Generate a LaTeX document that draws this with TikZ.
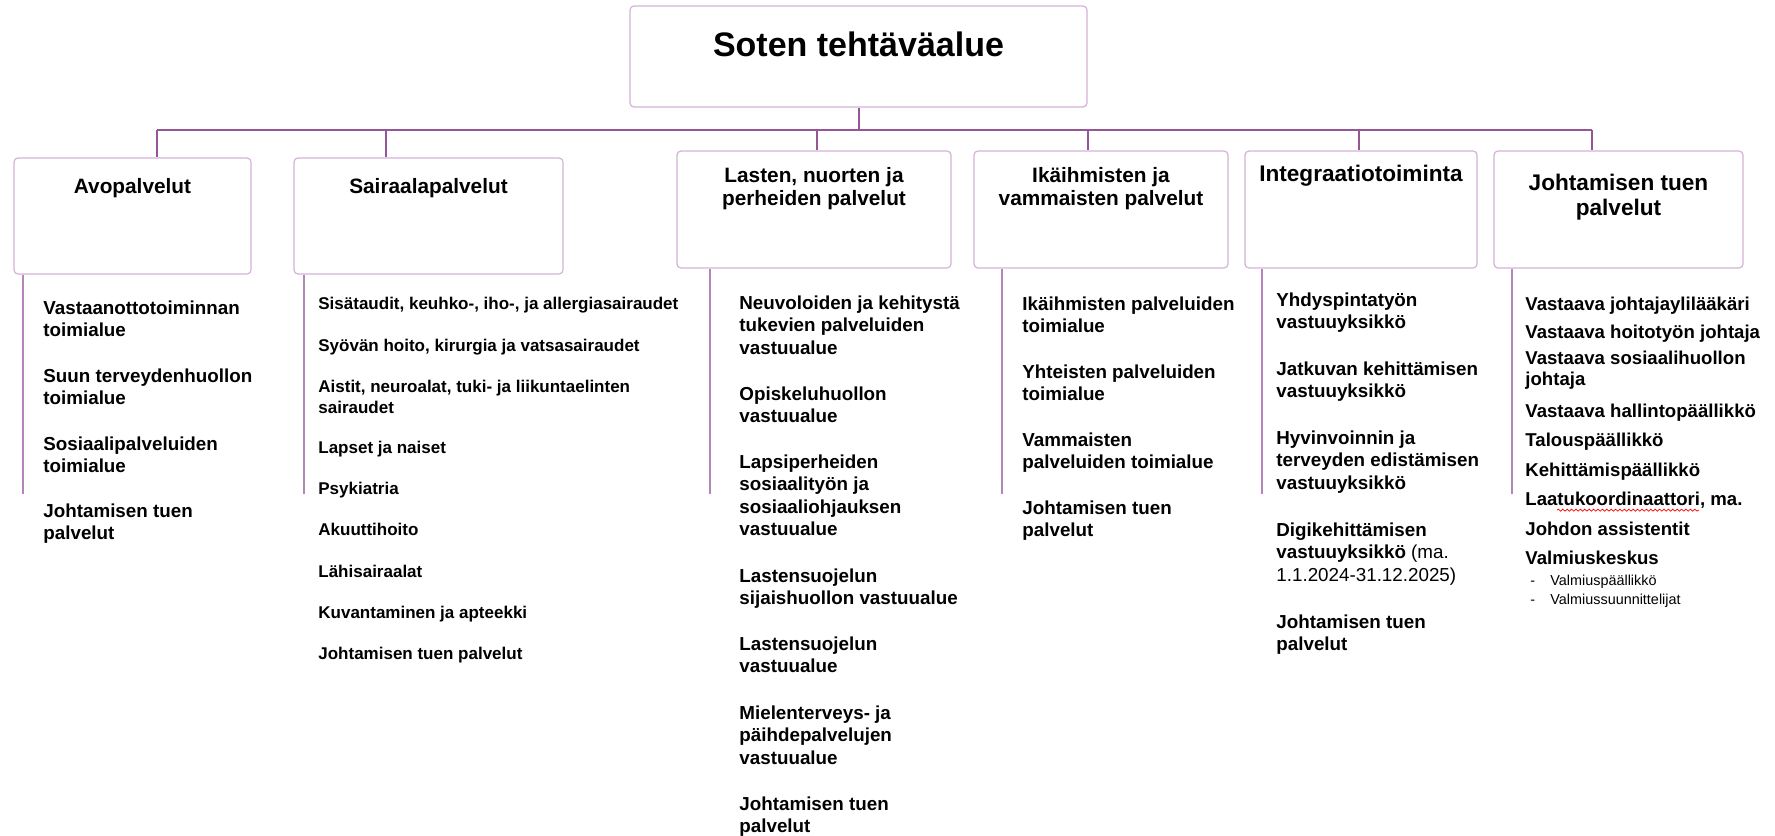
\documentclass[tikz,border=0pt]{standalone}
\usepackage{fontspec}
\setmainfont{Liberation Sans}
\usetikzlibrary{calc}
\usetikzlibrary{decorations.pathmorphing}

\definecolor{linkpurple}{RGB}{150,85,150}
\definecolor{boxpurple}{RGB}{210,178,214}
\definecolor{barpurple}{RGB}{180,135,186}

\begin{document}
\begin{tikzpicture}[x=0.5pt, y=-0.5pt,
  unit/.style={draw=boxpurple, line width=.6pt, rounded corners=2pt, inner sep=0pt},
  unittitle/.style={anchor=north, align=center, inner sep=0pt, font=\bfseries\fontsize{10.4}{11.5}\selectfont},
  link/.style={draw=linkpurple, line width=1pt},
  bar/.style={draw=barpurple, line width=1pt},
  spell/.style={draw=red, line width=.35pt, decorate, decoration={snake, amplitude=.5pt, segment length=2.2pt}},
  item/.style={anchor=north west, align=left, inner sep=0pt, font=\bfseries\fontsize{9.4}{11.3}\selectfont},
  smallitem/.style={item, font=\bfseries\fontsize{8.5}{10.4}\selectfont},
  staffitem/.style={item, font=\bfseries\fontsize{9.3}{10.5}\selectfont},
  subitem/.style={item, font=\fontsize{7.2}{9}\selectfont}]
\useasboundingbox (0,0) rectangle (1775,835);

\node[unit, minimum width=228.5pt, minimum height=50.5pt] (soten) at (858.5,56.5) {};
\node[unittitle, font=\bfseries\fontsize{17}{20}\selectfont] (sotentitle) at ([yshift=-13pt]soten.north) {Soten tehtäväalue};

\node[unit, minimum width=118.5pt, minimum height=58pt] (avo) at (132.5,216) {};
\node[unit, minimum width=134.5pt, minimum height=58pt] (sair) at (428.5,216) {};
\node[unit, minimum width=137pt, minimum height=58.5pt] (lasten) at (814,209.5) {};
\node[unit, minimum width=127pt, minimum height=58.5pt] (ika) at (1101,209.5) {};
\node[unit, minimum width=116pt, minimum height=58.5pt] (integ) at (1361,209.5) {};
\node[unit, minimum width=124.5pt, minimum height=58.5pt] (johto) at (1618.5,209.5) {};

\node[unittitle] (avotitle) at ([yshift=-10.5pt]avo.north) {Avopalvelut};
\node[unittitle] (sairtitle) at ([yshift=-10.5pt]sair.north) {Sairaalapalvelut};
\node[unittitle] (lastentitle) at ([yshift=-8.5pt]lasten.north) {Lasten, nuorten ja\\perheiden palvelut};
\node[unittitle] (ikatitle) at ([yshift=-8.5pt]ika.north) {Ikäihmisten ja\\vammaisten palvelut};
\node[unittitle, font=\bfseries\fontsize{11.3}{12.5}\selectfont] (integtitle) at ([yshift=-7pt]integ.north) {Integraatiotoiminta};
\node[unittitle, font=\bfseries\fontsize{11.3}{12.5}\selectfont] (johtotitle) at ([yshift=-11.5pt]johto.north) {Johtamisen tuen\\palvelut};

\coordinate (hub) at (soten.south |- 0,130);
\draw[link] (soten.south) -- (hub);
\foreach \x/\u in {157/avo, 386/sair, 817/lasten, 1088/ika, 1359/integ, 1592/johto} {
  \coordinate (j\u) at (\x,130);
  \draw[link] (j\u) -- (j\u |- \u.north);
}
\draw[link] (javo) -- (jjohto);

\foreach \x/\u in {23/avo, 304/sair, 710/lasten, 1002/ika, 1262/integ, 1512/johto}
  \draw[bar] (\x,0 |- \u.south) -- (\x,494);

\foreach \txt/\y [count=\i] in {{Vastaanottotoiminnan\\toimialue}/300, {Suun terveydenhuollon\\toimialue}/368,
  {Sosiaalipalveluiden\\toimialue}/436, {Johtamisen tuen\\palvelut}/503}
  \node[item] (avo\i) at (43,\y) {\txt};

\foreach \txt/\y [count=\i] in {{Sisätaudit, keuhko-, iho-, ja allergiasairaudet}/297, {Syövän hoito, kirurgia ja vatsasairaudet}/339,
  {Aistit, neuroalat, tuki- ja liikuntaelinten\\sairaudet}/380, {Lapset ja naiset}/441, {Psykiatria}/482, {Akuuttihoito}/523,
  {Lähisairaalat}/565, {Kuvantaminen ja apteekki}/606, {Johtamisen tuen palvelut}/647}
  \node[smallitem] (sair\i) at (318,\y) {\txt};

\foreach \txt/\y [count=\i] in {{Neuvoloiden ja kehitystä\\tukevien palveluiden\\vastuualue}/295, {Opiskeluhuollon\\vastuualue}/386,
  {Lapsiperheiden\\sosiaalityön ja\\sosiaaliohjauksen\\vastuualue}/454, {Lastensuojelun\\sijaishuollon vastuualue}/568,
  {Lastensuojelun\\vastuualue}/636, {Mielenterveys- ja\\päihdepalvelujen\\vastuualue}/705, {Johtamisen tuen\\palvelut}/796}
  \node[item] (lasten\i) at (739,\y) {\txt};

\foreach \txt/\y [count=\i] in {{Ikäihmisten palveluiden\\toimialue}/296, {Yhteisten palveluiden\\toimialue}/364,
  {Vammaisten\\palveluiden toimialue}/432, {Johtamisen tuen\\palvelut}/500}
  \node[item] (ika\i) at (1022,\y) {\txt};

\foreach \txt/\y [count=\i] in {{Yhdyspintatyön\\vastuuyksikkö}/292, {Jatkuvan kehittämisen\\vastuuyksikkö}/361,
  {Hyvinvoinnin ja\\terveyden edistämisen\\vastuuyksikkö}/430,
  {Digikehittämisen\\vastuuyksikkö \mdseries(ma.\\\mdseries 1.1.2024-31.12.2025)}/522, {Johtamisen tuen\\palvelut}/614}
  \node[item] (integ\i) at (1276,\y) {\txt};

\foreach \txt/\y [count=\i] in {{Vastaava johtajaylilääkäri}/297, {Vastaava hoitotyön johtaja}/325,
  {Vastaava sosiaalihuollon\\johtaja}/351, {Vastaava hallintopäällikkö}/404, {Talouspäällikkö}/433,
  {Kehittämispäällikkö}/463, {Laatukoordinaattori, ma.}/492, {Johdon assistentit}/522, {Valmiuskeskus}/551}
  \node[staffitem] (johto\i) at (1525,\y) {\txt};
\draw[spell] ($(johto7.south west)+(32,1)$) -- ($(johto7.south west)+(174,1)$);

\foreach \txt/\y [count=\i] in {Valmiuspäällikkö/575, Valmiussuunnittelijat/594}
  \node[subitem] (valmius\i) at (1530,\y) {\makebox[10pt][l]{-}\txt};
\end{tikzpicture}
\end{document}
